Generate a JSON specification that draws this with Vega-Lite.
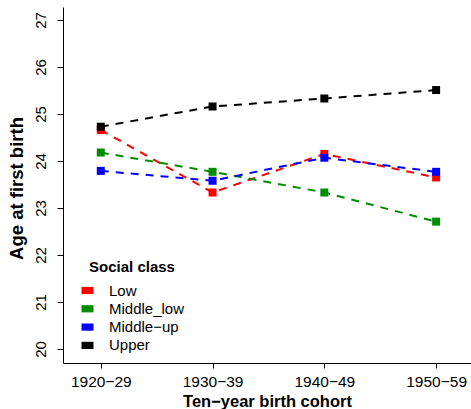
{
  "$schema": "https://vega.github.io/schema/vega-lite/v6.json",
  "width": 408,
  "height": 356,
  "autosize": {"type": "none"},
  "padding": {"left": 63, "top": 7, "right": 0, "bottom": 46},
  "config": {
    "font": "Liberation Sans",
    "view": {"stroke": null},
    "axis": {"labelColor": "black", "titleColor": "black", "domainColor": "black", "tickColor": "black", "grid": false}
  },
  "data": {
    "values": [
      {"cohort": "1920−29", "class": "Low", "age": 24.66},
      {"cohort": "1930−39", "class": "Low", "age": 23.33},
      {"cohort": "1940−49", "class": "Low", "age": 24.15},
      {"cohort": "1950−59", "class": "Low", "age": 23.65},
      {"cohort": "1920−29", "class": "Middle_low", "age": 24.18},
      {"cohort": "1930−39", "class": "Middle_low", "age": 23.77},
      {"cohort": "1940−49", "class": "Middle_low", "age": 23.33},
      {"cohort": "1950−59", "class": "Middle_low", "age": 22.71},
      {"cohort": "1920−29", "class": "Middle−up", "age": 23.79},
      {"cohort": "1930−39", "class": "Middle−up", "age": 23.58},
      {"cohort": "1940−49", "class": "Middle−up", "age": 24.07},
      {"cohort": "1950−59", "class": "Middle−up", "age": 23.77},
      {"cohort": "1920−29", "class": "Upper", "age": 24.73},
      {"cohort": "1930−39", "class": "Upper", "age": 25.16},
      {"cohort": "1940−49", "class": "Upper", "age": 25.33},
      {"cohort": "1950−59", "class": "Upper", "age": 25.51}
    ]
  },
  "encoding": {
    "x": {
      "field": "cohort", "type": "ordinal",
      "sort": ["1920−29", "1930−39", "1940−49", "1950−59"],
      "scale": {"type": "point", "padding": 0.325, "align": 0.52},
      "axis": {
        "title": "Ten−year birth cohort", "titleFontWeight": "bold", "titleFontSize": 16.5,
        "labelFontSize": 15.5, "labelFontWeight": "normal", "labelAngle": 0, "tickSize": 5, "labelPadding": 6, "titlePadding": 4
      }
    },
    "y": {
      "field": "age", "type": "quantitative",
      "scale": {"domain": [19.702, 27.277], "nice": false, "zero": false},
      "axis": {
        "values": [20, 21, 22, 23, 24, 25, 26, 27],
        "title": "Age at first birth", "titleFontWeight": "bold", "titleFontSize": 18.5,
        "labelFontSize": 15, "labelAngle": -90, "labelAlign": "center", "labelBaseline": "bottom",
        "tickSize": 6, "labelPadding": 9, "titlePadding": 7, "titleY": 181
      }
    }
  },
  "layer": [
    {
      "data": {"values": [{}]},
      "mark": {"type": "rule", "color": "black", "strokeWidth": 1},
      "encoding": {"y": {"datum": 27.277}, "x": null}
    },
    {
      "mark": {"type": "line", "strokeDash": [8, 7], "strokeWidth": 2},
      "encoding": {
        "color": {
          "field": "class", "type": "nominal",
          "sort": ["Low", "Middle_low", "Middle−up", "Upper"],
          "scale": {"domain": ["Low", "Middle_low", "Middle−up", "Upper"], "range": ["#FF0000", "#008B00", "#0000FF", "#000000"]},
          "legend": {
            "title": "Social class", "orient": "none", "legendX": 17, "legendY": 253,
            "titleFontSize": 15, "titleFontWeight": "bold", "titleColor": "black", "titleAnchor": "middle", "titlePadding": 8,
            "labelFontSize": 15, "labelColor": "black", "labelOffset": 14,
            "symbolType": "M-1,-0.6H1V0.6H-1Z", "symbolSize": 144, "symbolStrokeWidth": 0, "symbolOpacity": 1,
            "symbolDash": [], "rowPadding": 2.3
          }
        }
      }
    },
    {
      "mark": {"type": "point", "shape": "square", "filled": true, "size": 64, "opacity": 1},
      "encoding": {
        "color": {
          "field": "class", "type": "nominal",
          "sort": ["Low", "Middle_low", "Middle−up", "Upper"]
        }
      }
    }
  ]
}
